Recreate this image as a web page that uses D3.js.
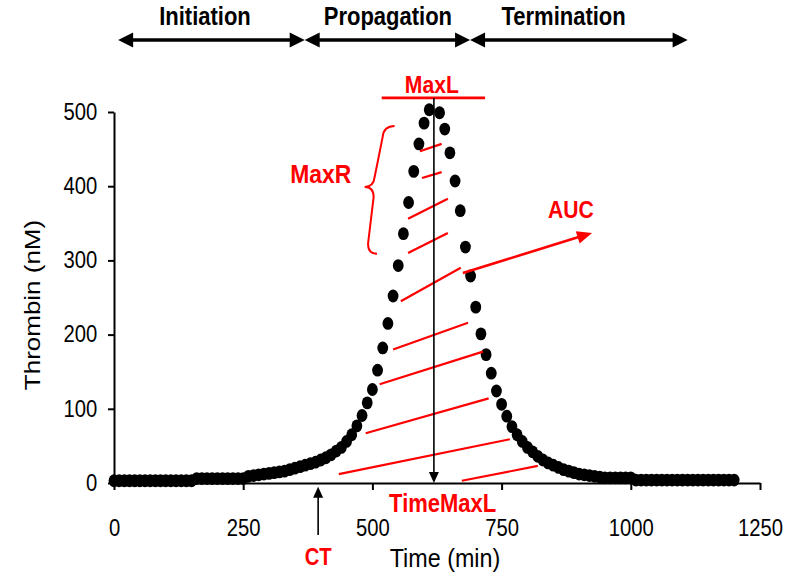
<!DOCTYPE html>
<html><head><meta charset="utf-8">
<script src="https://cdn.jsdelivr.net/npm/d3@7"></script>
<style>
html,body{margin:0;padding:0;background:#fff;}
svg text{font-family:"Liberation Sans",Arial,sans-serif;}
</style></head>
<body><svg id="c" width="800" height="584"></svg>
<script>
// ---------- data ----------
const times = [0,10,20,30,40,50,60,70,80,90,100,110,120,130,140,150,
  160,170,180,190,200,210,220,230,240,250,
  260,270,280,290,300,310,320,330,340,350,360,370,380,390,400,410,420,430,440,450,
  460,470,480,490,500,510,520,530,540,550,560,570,580,590,600,610,
  630,640,650,660,670,680,690,700,710,720,730,740,750,760,770,780,790,800,
  810,820,830,840,850,860,870,880,890,900,910,920,930,940,950,960,970,980,990,1000,
  1010,1020,1030,1040,1050,1060,1070,1080,1090,1100,1110,1120,1130,1140,1150,1160,1170,1180,1190,1200];
const thrombin = [3,3,3,3,3,3,3,3,3,3,3,3,3,3,3,3,
  6,6,6,6,6,6,6,6,6,6,
  9,10,11,12,13,14,15,16,18,20,22,24,26,28,31,34,38,43,48,56,
  65,77,91,108,126,152,182,215,252,293,336,378,420,457,485,503,
  499,477,445,407,367,318,279,237,201,173,148,124,106,90,76,65,56,48,
  42,36,31,27,24,21,18,16,14,12,11,10,9,8,7,7,7,7,7,7,
  4,4,4,4,4,4,4,4,4,4,4,4,4,4,4,4,4,4,4,4];
const xTicks = [0,250,500,750,1000,1250];
const yTicks = [0,100,200,300,400,500];
const xTitle = "Time (min)";
const yTitle = "Thrombin (nM)";

// phases (time boundaries) and labels
const phaseNames = ["Initiation","Propagation","Termination"];
const phaseStart = [8,369,689];
const phaseEnd = [369,689,1110];
const phaseLabelT = [176,530,870];

// annotations in data units [time, nM]
const hatchFrom = [[592,447],[596,411],[569,356],[569,310],[555,245],[540,180],[514,133],[487,67],[435,12],[673,3]];
const hatchTo   = [[634,457],[634,419],[646,383],[646,337],[671,290],[685,216],[714,177],[725,114],[766,59],[820,23]];
const maxL = {t0:518, t1:718, v:519};
const timeMaxL = 619;
const ctTime = 395;
const aucArrow = [[675,283],[925,337]];
const brace = {top:[543,481], mid:[485,399], bot:[509,309]};
const redLabels = [
  {text:"MaxL", t:615, v:526, size:24},
  {text:"TimeMaxL", t:636, v:-39, size:25},
  {text:"CT", t:395, v:-110, size:23},
  {text:"MaxR", t:400, v:404, size:26},
  {text:"AUC", t:884, v:357, size:24}
];
const RED = "#ff0000";
const SQ = 0.88; // horizontal glyph squeeze of the original picture

// ---------- scales ----------
const svg = d3.select("#c");
const x = d3.scaleLinear().domain([0,1250]).range([114,760]);
const y = d3.scaleLinear().domain([0,500]).range([483,112]);

function label(g, px, py, str, size, opts={}){
  const t = g.append("text")
    .attr("transform",`translate(${px},${py}) scale(${SQ},1)${opts.rot?` rotate(${opts.rot})`:""}`)
    .attr("text-anchor","middle").attr("font-size",size).text(str);
  if(opts.bold) t.attr("font-weight","bold");
  if(opts.fill) t.attr("fill",opts.fill);
  return t;
}

// ---------- axes ----------
const xAxis = svg.append("g").attr("transform",`translate(0,${y(0)})`)
  .call(d3.axisBottom(x).tickValues(xTicks).tickFormat(d3.format("d")).tickSizeInner(7).tickSizeOuter(0).tickPadding(30));
const yAxis = svg.append("g").attr("transform",`translate(${x(0)},0)`)
  .call(d3.axisLeft(y).tickValues(yTicks).tickFormat(d3.format("d")).tickSizeInner(6).tickSizeOuter(0).tickPadding(13));
[xAxis,yAxis].forEach(g=>{
  g.selectAll("path.domain").attr("stroke","#000").attr("stroke-width",2);
  g.selectAll(".tick line").attr("stroke","#000").attr("stroke-width",2);
  g.selectAll(".tick text").attr("font-size",23).attr("fill","#000")
    .attr("transform",`scale(${SQ},1)`)
    .style("font-family",'"Liberation Sans",Arial,sans-serif');
});
label(svg, 445, 567, xTitle, 26.5);
label(svg, 40, 305, yTitle, 26, {rot:-90});

// ---------- dots ----------
const pts = times.map((t,i)=>({t, v:thrombin[i]}));
svg.append("g").selectAll("ellipse").data(pts).join("ellipse")
  .attr("cx",d=>x(d.t)).attr("cy",d=>y(d.v)).attr("rx",5.4).attr("ry",6.4).attr("fill","#000");

// ---------- helpers ----------
function arrowHead(g, tip, from, len, half, fill){
  const dx = tip[0]-from[0], dy = tip[1]-from[1];
  const L = Math.hypot(dx,dy), ux = dx/L, uy = dy/L;
  const bx = tip[0]-ux*len, by = tip[1]-uy*len;
  g.append("polygon").attr("fill",fill)
    .attr("points",`${tip[0]},${tip[1]} ${bx-uy*half},${by+ux*half} ${bx+uy*half},${by-ux*half}`);
  return [bx+ux*1,by+uy*1];
}

// ---------- phase arrows ----------
const phaseY = y(597), phaseLabelY = y(617);
const pg = svg.append("g");
phaseNames.forEach((n,i)=>{
  const a=[x(phaseStart[i]),phaseY], b=[x(phaseEnd[i]),phaseY];
  const a2 = arrowHead(pg,a,b,15,7.5,"#000");
  const b2 = arrowHead(pg,b,a,15,7.5,"#000");
  pg.append("line").attr("x1",a2[0]).attr("y1",phaseY).attr("x2",b2[0]).attr("y2",phaseY)
    .attr("stroke","#000").attr("stroke-width",3.5);
  label(pg, x(phaseLabelT[i]), phaseLabelY, n, 25, {bold:true});
});

// ---------- hatch lines (AUC) ----------
const ag = svg.append("g");
hatchFrom.forEach((f,i)=>{
  const t = hatchTo[i];
  ag.append("line").attr("x1",x(f[0])).attr("y1",y(f[1])).attr("x2",x(t[0])).attr("y2",y(t[1]))
    .attr("stroke",RED).attr("stroke-width",2.2);
});
// AUC arrow
{
  const a=[x(aucArrow[0][0]),y(aucArrow[0][1])], b=[x(aucArrow[1][0]),y(aucArrow[1][1])];
  const b2 = arrowHead(ag,b,a,15,6.5,RED);
  ag.append("line").attr("x1",a[0]).attr("y1",a[1]).attr("x2",b2[0]).attr("y2",b2[1])
    .attr("stroke",RED).attr("stroke-width",2.6);
}
// MaxL line
ag.append("line").attr("x1",x(maxL.t0)).attr("x2",x(maxL.t1)).attr("y1",y(maxL.v)).attr("y2",y(maxL.v))
  .attr("stroke",RED).attr("stroke-width",2.6);

// brace
{
  const p0=[x(brace.top[0]),y(brace.top[1])], pm=[x(brace.mid[0]),y(brace.mid[1])], pb=[x(brace.bot[0]),y(brace.bot[1])];
  const d = `M${p0[0]},${p0[1]} Q${p0[0]-11},${p0[1]} ${p0[0]-12},${p0[1]+11}
    L${pm[0]+10},${pm[1]-10} Q${pm[0]+9},${pm[1]} ${pm[0]},${pm[1]}
    Q${pm[0]+9},${pm[1]} ${pm[0]+9},${pm[1]+10}
    L${pb[0]-9},${pb[1]-10} Q${pb[0]-9},${pb[1]} ${pb[0]},${pb[1]}`;
  ag.append("path").attr("d",d).attr("fill","none").attr("stroke",RED).attr("stroke-width",2);
}

// ---------- TimeMaxL vertical arrow ----------
const vg = svg.append("g");
{
  const top=[x(timeMaxL),y(maxL.v)], bot=[x(timeMaxL),y(0)];
  const b2 = arrowHead(vg,bot,top,11,5,"#000");
  vg.append("line").attr("x1",top[0]).attr("y1",top[1]).attr("x2",b2[0]).attr("y2",b2[1])
    .attr("stroke","#000").attr("stroke-width",1.6);
}
// CT arrow
{
  const tip=[x(ctTime),y(-5)], tail=[x(ctTime),y(-70)];
  const t2 = arrowHead(vg,tip,tail,11,5,"#000");
  vg.append("line").attr("x1",tail[0]).attr("y1",tail[1]).attr("x2",t2[0]).attr("y2",t2[1])
    .attr("stroke","#000").attr("stroke-width",1.6);
}

// ---------- red labels ----------
const rg = svg.append("g");
redLabels.forEach(d=>label(rg, x(d.t), y(d.v), d.text, d.size, {bold:true, fill:RED}));
</script></body></html>
